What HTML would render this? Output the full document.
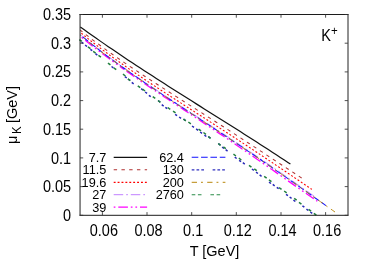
<!DOCTYPE html><html><head><meta charset="utf-8"><style>html,body{margin:0;padding:0;background:#fff}svg{display:block;will-change:transform}text{font-family:"Liberation Sans",sans-serif;fill:#000}</style></head><body>
<svg width="374" height="262" viewBox="0 0 374 262">
<rect width="374" height="262" fill="#fff"/>
<path d="M80.30 26.96 L84.30 29.83 L88.30 32.69 L92.30 35.52 L96.30 38.33 L100.30 41.12 L104.30 43.88 L108.30 46.64 L112.30 49.37 L116.30 52.08 L120.30 54.78 L124.30 57.47 L128.30 60.13 L132.30 62.79 L136.30 65.43 L140.30 68.05 L144.30 70.67 L148.30 73.27 L152.30 75.86 L156.30 78.44 L160.30 81.02 L164.30 83.58 L168.30 86.14 L172.30 88.68 L176.30 91.23 L180.30 93.76 L184.30 96.29 L188.30 98.82 L192.30 101.34 L196.30 103.87 L200.30 106.38 L204.30 108.90 L208.30 111.42 L212.30 113.93 L216.30 116.45 L220.30 118.97 L224.30 121.49 L228.30 124.01 L232.30 126.54 L236.30 129.07 L240.30 131.61 L244.30 134.15 L248.30 136.70 L252.30 139.25 L256.30 141.82 L260.30 144.39 L264.30 146.97 L268.30 149.57 L272.30 152.17 L276.30 154.78 L280.30 157.41 L284.30 160.05 L288.30 162.70 L290.40 164.10" fill="none" stroke="#111" stroke-width="1.2"/>
<path d="M80.30 30.13 L84.30 33.32 L88.30 36.45 L92.30 39.53 L96.30 42.55 L100.30 45.53 L104.30 48.46 L108.30 51.36 L112.30 54.21 L116.30 57.03 L120.30 59.81 L124.30 62.56 L128.30 65.29 L132.30 67.99 L136.30 70.67 L140.30 73.32 L144.30 75.96 L148.30 78.58 L152.30 81.19 L156.30 83.78 L160.30 86.37 L164.30 88.94 L168.30 91.51 L172.30 94.07 L176.30 96.63 L180.30 99.18 L184.30 101.73 L188.30 104.29 L192.30 106.84 L196.30 109.39 L200.30 111.94 L204.30 114.50 L208.30 117.06 L212.30 119.63 L216.30 122.20 L220.30 124.77 L224.30 127.36 L228.30 129.94 L232.30 132.53 L236.30 135.13 L240.30 137.73 L244.30 140.34 L248.30 142.96 L252.30 145.57 L256.30 148.20 L260.30 150.82 L264.30 153.45 L268.30 156.08 L272.30 158.72 L276.30 161.35 L280.30 163.99 L284.30 166.62 L288.30 169.25 L292.30 171.87 L296.30 174.49 L300.30 177.11 L302.00 178.21" fill="none" stroke="#b03030" stroke-width="1.02" stroke-dasharray="3.4 4.35" stroke-dashoffset="0.63"/>
<path d="M80.30 32.38 L84.30 35.65 L88.30 38.86 L92.30 42.01 L96.30 45.11 L100.30 48.16 L104.30 51.16 L108.30 54.11 L112.30 57.03 L116.30 59.91 L120.30 62.75 L124.30 65.55 L128.30 68.33 L132.30 71.08 L136.30 73.80 L140.30 76.50 L144.30 79.18 L148.30 81.84 L152.30 84.48 L156.30 87.11 L160.30 89.72 L164.30 92.33 L168.30 94.92 L172.30 97.50 L176.30 100.08 L180.30 102.65 L184.30 105.22 L188.30 107.79 L192.30 110.35 L196.30 112.92 L200.30 115.49 L204.30 118.06 L208.30 120.63 L212.30 123.21 L216.30 125.79 L220.30 128.37 L224.30 130.97 L228.30 133.56 L232.30 136.17 L236.30 138.78 L240.30 141.40 L244.30 144.03 L248.30 146.67 L252.30 149.31 L256.30 151.97 L260.30 154.62 L264.30 157.29 L268.30 159.97 L272.30 162.65 L276.30 165.34 L280.30 168.03 L284.30 170.73 L288.30 173.43 L292.30 176.14 L296.30 178.85 L300.30 181.56 L304.30 184.27 L308.30 186.98 L311.90 189.42" fill="none" stroke="#ff0000" stroke-width="1.07" stroke-dasharray="1.9 2.0" stroke-dashoffset="2.52"/>
<path d="M80.30 34.64 L84.30 37.93 L88.30 41.15 L92.30 44.33 L96.30 47.45 L100.30 50.52 L104.30 53.55 L108.30 56.54 L112.30 59.48 L116.30 62.39 L120.30 65.26 L124.30 68.10 L128.30 70.91 L132.30 73.70 L136.30 76.46 L140.30 79.19 L144.30 81.91 L148.30 84.60 L152.30 87.28 L156.30 89.95 L160.30 92.60 L164.30 95.24 L168.30 97.87 L172.30 100.49 L176.30 103.11 L180.30 105.72 L184.30 108.33 L188.30 110.94 L192.30 113.55 L196.30 116.16 L200.30 118.77 L204.30 121.38 L208.30 123.99 L212.30 126.62 L216.30 129.24 L220.30 131.88 L224.30 134.52 L228.30 137.16 L232.30 139.82 L236.30 142.49 L240.30 145.16 L244.30 147.84 L248.30 150.54 L252.30 153.24 L256.30 155.95 L260.30 158.68 L264.30 161.41 L268.30 164.16 L272.30 166.91 L276.30 169.67 L280.30 172.44 L284.30 175.23 L288.30 178.02 L292.30 180.81 L296.30 183.62 L300.30 186.43 L304.30 189.25 L308.30 192.07 L312.30 194.90 L314.20 196.24" fill="none" stroke="#c080ff" stroke-width="0.93" stroke-dasharray="9.5 3.0 1.7 2.9" stroke-dashoffset="15.83"/>
<path d="M80.30 36.23 L84.30 39.51 L88.30 42.74 L92.30 45.90 L96.30 49.02 L100.30 52.08 L104.30 55.10 L108.30 58.08 L112.30 61.01 L116.30 63.91 L120.30 66.78 L124.00 69.40" fill="none" stroke="#ff00ff" stroke-width="1.3" stroke-dasharray="9.6 2.9 1.7 2.9 1.7 2.9" stroke-dashoffset="15.36"/>
<path d="M124.00 69.40 L128.00 72.21 L132.00 74.99 L136.00 77.75 L140.00 80.49 L144.00 83.21 L148.00 85.92 L152.00 88.61 L156.00 91.29 L160.00 93.96 L164.00 96.62 L168.00 99.28 L172.00 101.93 L176.00 104.57 L180.00 107.22 L184.00 109.87 L188.00 112.51 L192.00 115.16 L196.00 117.81 L200.00 120.47 L204.00 123.13 L208.00 125.80 L212.00 128.48 L216.00 131.16 L220.00 133.85 L224.00 136.55 L228.00 139.26 L232.00 141.97 L236.00 144.70 L240.00 147.43 L244.00 150.17 L248.00 152.92 L252.00 155.68 L256.00 158.45 L260.00 161.23 L264.00 164.01 L268.00 166.80 L272.00 169.59 L276.00 172.39 L280.00 175.19 L284.00 177.99 L288.00 180.80 L292.00 183.61 L296.00 186.41 L300.00 189.21 L304.00 192.01 L308.00 194.80 L312.00 197.59 L316.00 200.38 L317.30 201.28" fill="none" stroke="#ff00ff" stroke-width="1.3" stroke-dasharray="9.6 2.9 1.7 2.9 1.7 2.9" stroke-dashoffset="18.62"/>
<path d="M80.30 34.89 L84.30 38.19 L88.30 41.43 L92.30 44.62 L96.30 47.75 L100.30 50.84 L104.30 53.88 L108.30 56.88 L112.30 59.83 L116.30 62.76 L120.30 65.64 L124.30 68.50 L128.30 71.32 L132.30 74.12 L136.30 76.89 L140.30 79.63 L144.30 82.36 L148.30 85.07 L152.30 87.76 L156.30 90.44 L160.30 93.11 L164.30 95.76 L168.30 98.40 L172.30 101.04 L176.30 103.67 L180.30 106.30 L184.30 108.92 L188.30 111.54 L192.30 114.16 L196.30 116.78 L200.30 119.40 L204.30 122.03 L208.30 124.66 L212.30 127.29 L216.30 129.93 L220.30 132.58 L224.30 135.23 L228.30 137.89 L232.30 140.56 L236.30 143.24 L240.30 145.92 L244.30 148.62 L248.30 151.33 L252.30 154.04 L256.30 156.77 L260.30 159.51 L264.30 162.25 L268.30 165.01 L272.30 167.78 L276.30 170.55 L280.30 173.34 L284.30 176.13 L288.30 178.94 L292.30 181.75 L296.30 184.57 L300.30 187.39 L304.30 190.22 L308.30 193.06 L312.30 195.90 L316.30 198.74 L320.30 201.58 L324.30 204.42 L325.90 205.56" fill="none" stroke="#1010ff" stroke-width="1.02" stroke-dasharray="6.6 2.76" stroke-dashoffset="6.06"/>
<path d="M80.30 35.04 L84.30 38.34 L88.30 41.57 L92.30 44.76 L96.30 47.89 L100.30 50.97 L104.30 54.01 L108.30 57.01 L112.30 59.96 L116.30 62.88 L120.30 65.77 L124.30 68.62 L128.30 71.44 L132.30 74.23 L136.30 77.00 L140.30 79.75 L144.30 82.47 L148.30 85.18 L152.30 87.87 L156.30 90.54 L160.30 93.20 L164.30 95.85 L168.30 98.50 L172.30 101.13 L176.30 103.76 L180.30 106.38 L184.30 109.00 L188.30 111.62 L192.30 114.24 L196.30 116.85 L200.30 119.47 L204.30 122.10 L208.30 124.72 L212.30 127.35 L216.30 129.99 L220.30 132.64 L224.30 135.29 L228.30 137.94 L232.30 140.61 L236.30 143.29 L240.30 145.97 L244.30 148.66 L248.30 151.37 L252.30 154.08 L256.30 156.81 L260.30 159.54 L264.30 162.28 L268.30 165.04 L272.30 167.80 L276.30 170.58 L280.30 173.36 L284.30 176.15 L288.30 178.95 L292.30 181.76 L296.30 184.57 L300.30 187.40 L304.30 190.22 L308.30 193.06 L312.30 195.90 L316.30 198.74 L320.30 201.58 L324.30 204.42 L328.30 207.27 L332.30 210.11 L335.00 212.03" fill="none" stroke="#b8860b" stroke-width="0.93" stroke-dasharray="5.3 4.0 1.9 4.3" stroke-dashoffset="4.72"/>
<path d="M81.54 42.09 L83.46 43.51 M85.14 45.09 L87.06 46.51 M90.34 49.29 L92.26 50.71 M95.44 53.69 L97.36 55.11 M111.54 66.49 L113.46 67.91 M124.84 76.59 L126.76 78.01 M128.14 79.09 L130.06 80.51 M131.74 82.39 L133.66 83.81 M141.14 88.69 L143.06 90.11 M145.14 91.99 L147.06 93.41 M148.84 95.29 L150.76 96.71 M158.24 100.69 L160.16 102.11 M161.74 104.69 L163.66 106.11 M165.34 107.29 L167.26 108.71 M175.14 114.29 L177.06 115.71 M179.14 116.99 L181.06 118.41 M183.64 119.19 L185.56 120.61 M192.04 125.99 L193.96 127.41 M196.14 128.89 L198.06 130.31 M200.14 131.99 L202.06 133.41 M204.44 135.09 L206.36 136.51 M208.44 136.69 L210.36 138.11 M218.44 143.69 L220.36 145.11 M222.14 147.09 L224.06 148.51 M225.64 149.69 L227.56 151.11 M234.74 157.09 L236.66 158.51 M239.14 160.29 L241.06 161.71 M242.84 162.69 L244.76 164.11 M251.94 168.99 L253.86 170.41 M256.04 172.09 L257.96 173.51 M259.64 174.89 L261.56 176.31 M269.04 182.09 L270.96 183.51 M272.74 184.39 L274.66 185.81 M276.74 187.29 L278.66 188.71 M286.04 194.29 L287.96 195.71 M289.64 196.99 L291.56 198.41 M293.44 200.09 L295.36 201.51 M302.44 205.79 L304.36 207.21 M306.44 209.09 L308.36 210.51 M310.34 211.99 L312.26 213.41" fill="none" stroke="#2828b8" stroke-width="1.5"/>
<path d="M79.35 39.58 L81.85 41.42 M87.95 46.88 L90.45 48.72 M93.15 51.28 L95.65 53.12 M98.45 55.38 L100.95 57.22 M107.95 63.08 L110.45 64.92 M113.75 67.88 L116.25 69.72 M122.95 74.18 L125.45 76.02 M127.85 78.88 L130.35 80.72 M137.75 85.88 L140.25 87.72 M142.55 89.18 L145.05 91.02 M152.75 96.58 L155.25 98.42 M157.95 100.48 L160.45 102.32 M167.75 107.48 L170.25 109.32 M173.05 111.08 L175.55 112.92 M183.35 118.98 L185.85 120.82 M188.35 121.98 L190.85 123.82 M198.55 129.08 L201.05 130.92 M203.45 132.48 L205.95 134.32 M208.15 136.48 L210.65 138.32 M218.15 143.48 L220.65 145.32 M223.35 146.78 L225.85 148.62 M233.45 154.18 L235.95 156.02 M238.85 158.18 L241.35 160.02 M248.95 165.38 L251.45 167.22 M254.25 168.78 L256.75 170.62 M264.15 176.38 L266.65 178.22 M268.95 179.78 L271.45 181.62 M279.05 187.58 L281.55 189.42 M284.15 190.98 L286.65 192.82 M294.15 198.38 L296.65 200.22 M298.95 202.28 L301.45 204.12 M308.60 209.38 L311.10 211.22 M313.85 213.38 L316.35 215.22" fill="none" stroke="#228040" stroke-width="1.5"/>
<path d="M79.40 14.50 H348.60 M79.40 215.30 H348.60" stroke="#1c1c1c" stroke-width="1" fill="none"/>
<path d="M80.05 14.50 V215.30 M348.0 14.50 V215.30" stroke="#222" stroke-width="1" fill="none"/>
<path d="M102.4 215.3 v-3.2 M102.4 14.5 v3.2" stroke="#333" stroke-width="0.85"/>
<text transform="translate(103.88,235.50) scale(1,1.090)" font-size="14.50" text-anchor="middle">0.06</text>
<path d="M147.0 215.3 v-3.2 M147.0 14.5 v3.2" stroke="#333" stroke-width="0.85"/>
<text transform="translate(148.52,235.50) scale(1,1.090)" font-size="14.50" text-anchor="middle">0.08</text>
<path d="M191.7 215.3 v-3.2 M191.7 14.5 v3.2" stroke="#333" stroke-width="0.85"/>
<text transform="translate(193.18,235.50) scale(1,1.090)" font-size="14.50" text-anchor="middle">0.1</text>
<path d="M236.3 215.3 v-3.2 M236.3 14.5 v3.2" stroke="#333" stroke-width="0.85"/>
<text transform="translate(237.82,235.50) scale(1,1.090)" font-size="14.50" text-anchor="middle">0.12</text>
<path d="M281.0 215.3 v-3.2 M281.0 14.5 v3.2" stroke="#333" stroke-width="0.85"/>
<text transform="translate(282.48,235.50) scale(1,1.090)" font-size="14.50" text-anchor="middle">0.14</text>
<path d="M325.6 215.3 v-3.2 M325.6 14.5 v3.2" stroke="#333" stroke-width="0.85"/>
<text transform="translate(327.12,235.50) scale(1,1.090)" font-size="14.50" text-anchor="middle">0.16</text>
<path d="M80.0 215.3 h3.2 M347.9 215.3 h-3.2" stroke="#333" stroke-width="0.85"/>
<text transform="translate(71.10,220.90) scale(1,1.090)" font-size="14.50" text-anchor="end">0</text>
<path d="M80.0 186.6 h3.2 M347.9 186.6 h-3.2" stroke="#333" stroke-width="0.85"/>
<text transform="translate(71.10,192.21) scale(1,1.090)" font-size="14.50" text-anchor="end">0.05</text>
<path d="M80.0 157.9 h3.2 M347.9 157.9 h-3.2" stroke="#333" stroke-width="0.85"/>
<text transform="translate(71.10,163.53) scale(1,1.090)" font-size="14.50" text-anchor="end">0.1</text>
<path d="M80.0 129.2 h3.2 M347.9 129.2 h-3.2" stroke="#333" stroke-width="0.85"/>
<text transform="translate(71.10,134.84) scale(1,1.090)" font-size="14.50" text-anchor="end">0.15</text>
<path d="M80.0 100.6 h3.2 M347.9 100.6 h-3.2" stroke="#333" stroke-width="0.85"/>
<text transform="translate(71.10,106.16) scale(1,1.090)" font-size="14.50" text-anchor="end">0.2</text>
<path d="M80.0 71.9 h3.2 M347.9 71.9 h-3.2" stroke="#333" stroke-width="0.85"/>
<text transform="translate(71.10,77.47) scale(1,1.090)" font-size="14.50" text-anchor="end">0.25</text>
<path d="M80.0 43.2 h3.2 M347.9 43.2 h-3.2" stroke="#333" stroke-width="0.85"/>
<text transform="translate(71.10,48.79) scale(1,1.090)" font-size="14.50" text-anchor="end">0.3</text>
<path d="M80.0 14.5 h3.2 M347.9 14.5 h-3.2" stroke="#333" stroke-width="0.85"/>
<text transform="translate(71.10,20.10) scale(1,1.090)" font-size="14.50" text-anchor="end">0.35</text>
<text transform="translate(106.30,161.70) scale(1,1.030)" font-size="12.70" text-anchor="end">7.7</text>
<path d="M113.7 157.3 H147.1" stroke="#111" stroke-width="1.2" stroke-dashoffset="0"/>
<text transform="translate(106.30,174.20) scale(1,1.030)" font-size="12.70" text-anchor="end">11.5</text>
<path d="M113.7 169.8 H147.1" stroke="#b03030" stroke-width="1.1" stroke-dasharray="3.4 4.35" stroke-dashoffset="0"/>
<text transform="translate(106.30,186.70) scale(1,1.030)" font-size="12.70" text-anchor="end">19.6</text>
<path d="M113.7 182.3 H147.1" stroke="#ff0000" stroke-width="1.15" stroke-dasharray="1.9 2.0" stroke-dashoffset="0"/>
<text transform="translate(106.30,199.10) scale(1,1.030)" font-size="12.70" text-anchor="end">27</text>
<path d="M113.7 194.7 H147.1" stroke="#c080ff" stroke-width="1.0" stroke-dasharray="9.5 3.0 1.7 2.9" stroke-dashoffset="0"/>
<text transform="translate(106.30,211.60) scale(1,1.030)" font-size="12.70" text-anchor="end">39</text>
<path d="M113.7 207.2 H147.1" stroke="#ff00ff" stroke-width="1.3" stroke-dasharray="9.6 2.9 1.7 2.9 1.7 2.9" stroke-dashoffset="17.1"/>
<text transform="translate(183.90,161.70) scale(1,1.030)" font-size="12.70" text-anchor="end">62.4</text>
<path d="M191.7 157.3 H225.4" stroke="#1010ff" stroke-width="1.1" stroke-dasharray="6.6 2.76" stroke-dashoffset="0"/>
<text transform="translate(183.90,174.20) scale(1,1.030)" font-size="12.70" text-anchor="end">130</text>
<path d="M191.7 169.8 H225.4" stroke="#3030c0" stroke-width="1.15" stroke-dasharray="2.7 2.1 2.7 2.1 2.7 8.6" stroke-dashoffset="0"/>
<text transform="translate(183.90,186.70) scale(1,1.030)" font-size="12.70" text-anchor="end">200</text>
<path d="M191.7 182.3 H225.4" stroke="#b8860b" stroke-width="1.0" stroke-dasharray="5.3 4.0 1.9 4.3" stroke-dashoffset="0"/>
<text transform="translate(183.90,199.10) scale(1,1.030)" font-size="12.70" text-anchor="end">2760</text>
<path d="M191.7 194.7 H225.4" stroke="#2a8c48" stroke-width="1.15" stroke-dasharray="3.6 2.6 3.6 8.9" stroke-dashoffset="0"/>
<text transform="translate(214.50,255.50) scale(1,1.070)" font-size="14.50" text-anchor="middle">T [GeV]</text>
<text transform="translate(17.1,144.0) rotate(-90) scale(1,1.07)" font-size="14.5" text-anchor="start">μ<tspan font-size="11.4" dy="3.8" dx="1.7">K</tspan><tspan dy="-3.8" dx="-0.8"> [GeV]</tspan></text>
<text transform="translate(321.20,41.20) scale(1,1.100)" font-size="14.50" text-anchor="start">K<tspan font-size="11.5" dy="-5.6">+</tspan></text>
</svg></body></html>
